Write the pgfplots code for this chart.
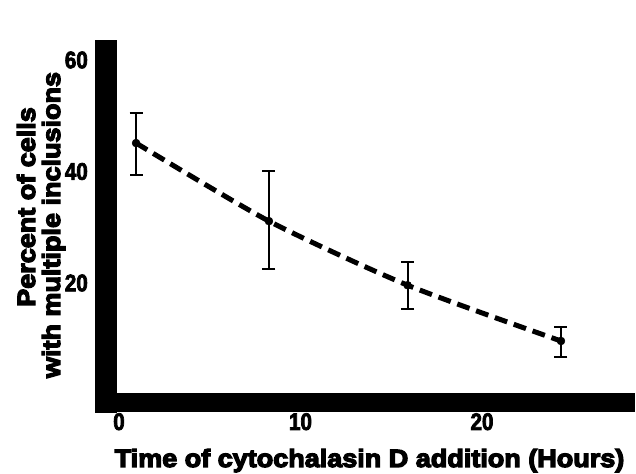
\documentclass[border=0pt]{standalone}
\usepackage{pgfplots}
\pgfplotsset{compat=1.18}
\usepackage{fontspec}
\setmainfont{Liberation Sans}[UprightFont=* Bold, FakeBold=5, FakeStretch=1.08]
\newfontfamily\tickfont{Liberation Sans}[UprightFont=* Bold, FakeBold=3, FakeStretch=0.86]
\begin{document}
\begin{tikzpicture}
\begin{axis}[
 x=18.15pt, y=5.575pt,
 at={(119pt,78.5pt)}, anchor=origin,
 xmin=-0.716, xmax=27.9, ymin=-1.435, ymax=61.7,
 axis lines=left,
 axis line style={-},
 x axis line style={line width=19pt, line cap=rect, -},
 y axis line style={line width=22pt, line cap=rect, -},
 xtick={0,10,20}, ytick={20,40,60},
 major tick length=0pt,
 tick label style={font=\tickfont\fontsize{24}{24}\selectfont},
 xticklabel style={anchor=north, inner sep=0pt, yshift=-10.5pt},
 yticklabel style={anchor=east, inner sep=0pt, xshift=-18pt},
 /pgf/number format/assume math mode=true,
 clip=false,
]
\addplot[black, line width=5pt, dash pattern=on 13pt off 7pt, smooth, tension=0.4] table {
x y
0.94 45.1
8.26 31.1
15.9 19.6
24.35 9.6
};
\addplot[black, only marks, mark=*, mark size=4pt,
 error bars/.cd, y dir=both, y explicit,
 error bar style={line width=2pt},
 error mark options={rotate=90, mark size=6.5pt, line width=2pt}]
 table[x=x, y=y, y error plus=ep, y error minus=em] {
x y ep em
0.94 45.1 5.4 5.7
8.26 31.1 9.0 8.5
15.9 19.6 4.2 4.3
24.35 9.6 2.5 2.9
};
\end{axis}
\node[rotate=90, anchor=base, inner sep=0pt, font=\fontsize{25}{25}\selectfont] at (35pt, 266pt) {Percent of cells};
\node[rotate=90, anchor=base, inner sep=0pt, font=\fontsize{25}{25}\selectfont] at (60pt, 248pt) {with multiple inclusions};
\node[anchor=base, inner sep=0pt, font=\fontsize{25}{25}\selectfont] at (369.5pt, 6pt) {Time of cytochalasin D addition (Hours)};
\pgfresetboundingbox
\useasboundingbox (0,0) rectangle (636pt,473pt);
\end{tikzpicture}
\end{document}
